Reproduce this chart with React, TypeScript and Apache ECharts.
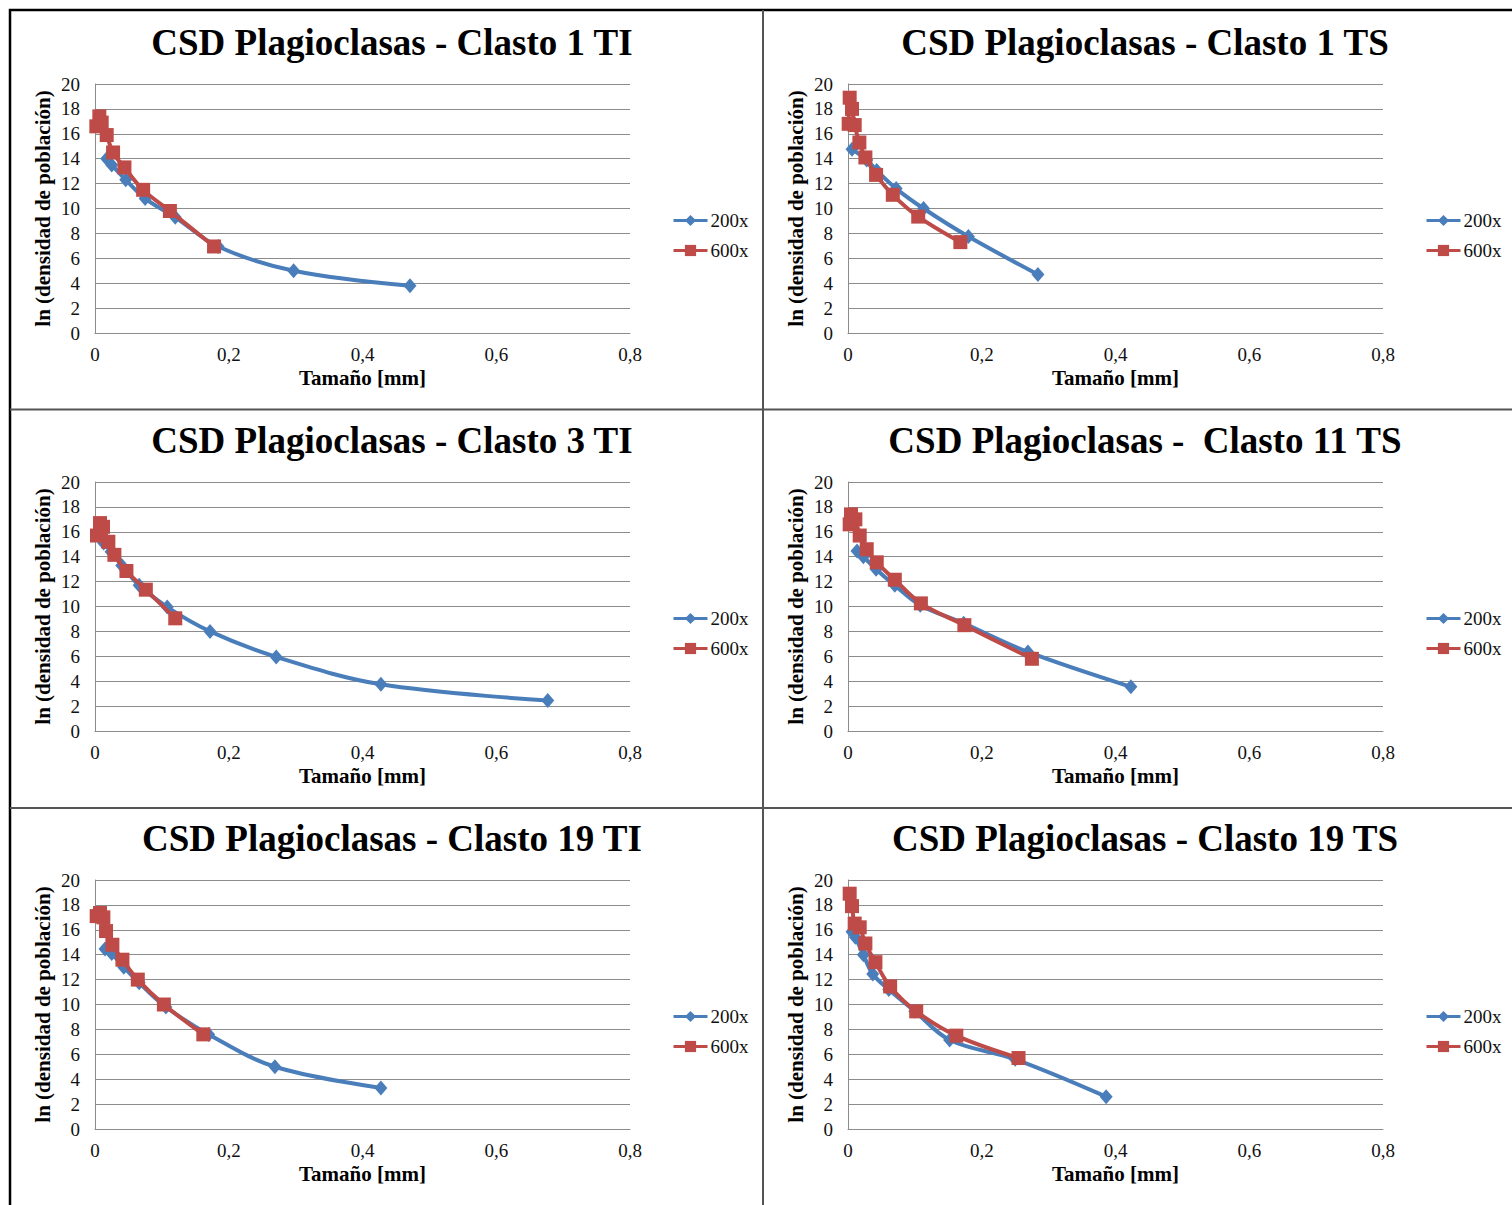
import React, { useEffect, useRef } from "react";
import * as echarts from "echarts";

// Panel titles, in reading order (two columns, three rows)
const panelTitles: string[] = [
  "CSD Plagioclasas - Clasto 1 TI",
  "CSD Plagioclasas - Clasto 1 TS",
  "CSD Plagioclasas - Clasto 3 TI",
  "CSD Plagioclasas -  Clasto 11 TS",
  "CSD Plagioclasas - Clasto 19 TI",
  "CSD Plagioclasas - Clasto 19 TS",
];

const seriesNames: string[] = ["200x", "600x"];
const xAxisTitle = "Tamaño [mm]";
const yAxisTitle = "ln (densidad de población)";

// [tamaño (mm), ln(densidad de población)]
const clasto1TI_200x: number[][] = [
  [0.0175, 14.0], [0.025, 13.5], [0.046, 12.3], [0.075, 10.8], [0.12, 9.3],
  [0.184, 6.95], [0.297, 5.0], [0.471, 3.8],
];
const clasto1TI_600x: number[][] = [
  [0.002, 16.6], [0.0065, 17.4], [0.01, 16.9], [0.0175, 15.9], [0.027, 14.5],
  [0.044, 13.3], [0.072, 11.5], [0.112, 9.8], [0.178, 6.95],
];

const clasto1TS_200x: number[][] = [
  [0.006, 14.75], [0.028, 13.9], [0.043, 13.05], [0.072, 11.6], [0.113, 10.0],
  [0.18, 7.75], [0.284, 4.7],
];
const clasto1TS_600x: number[][] = [
  [0.001, 16.8], [0.0025, 18.9], [0.006, 18.0], [0.01, 16.7], [0.017, 15.3],
  [0.026, 14.1], [0.042, 12.7], [0.067, 11.1], [0.105, 9.35], [0.168, 7.3],
];

const clasto3TI_200x: number[][] = [
  [0.013, 15.1], [0.024, 14.4], [0.04, 13.3], [0.066, 11.7], [0.108, 9.95],
  [0.172, 8.0], [0.271, 5.95], [0.4275, 3.75], [0.677, 2.45],
];
const clasto3TI_600x: number[][] = [
  [0.003, 15.7], [0.0075, 16.7], [0.012, 16.4], [0.02, 15.2], [0.029, 14.15],
  [0.047, 12.85], [0.076, 11.35], [0.12, 9.05],
];

const clasto11TS_200x: number[][] = [
  [0.0135, 14.45], [0.023, 14.0], [0.042, 13.0], [0.07, 11.7], [0.108, 10.1],
  [0.173, 8.65], [0.269, 6.35], [0.423, 3.55],
];
const clasto11TS_600x: number[][] = [
  [0.0025, 16.6], [0.0045, 17.4], [0.011, 17.0], [0.0175, 15.7], [0.028, 14.6],
  [0.043, 13.55], [0.07, 12.15], [0.109, 10.25], [0.174, 8.5], [0.275, 5.8],
];

const clasto19TI_200x: number[][] = [
  [0.015, 14.45], [0.025, 14.1], [0.043, 13.0], [0.066, 11.75], [0.106, 9.8],
  [0.17, 7.6], [0.269, 5.0], [0.4275, 3.3],
];
const clasto19TI_600x: number[][] = [
  [0.0025, 17.1], [0.0075, 17.35], [0.0125, 17.0], [0.0165, 15.9], [0.026, 14.8],
  [0.041, 13.6], [0.064, 12.0], [0.103, 10.0], [0.162, 7.6],
];

const clasto19TS_200x: number[][] = [
  [0.006, 15.85], [0.011, 15.4], [0.023, 14.0], [0.037, 12.45], [0.061, 11.2],
  [0.1, 9.45], [0.152, 7.15], [0.25, 5.6], [0.386, 2.6],
];
const clasto19TS_600x: number[][] = [
  [0.0025, 18.9], [0.006, 17.9], [0.01, 16.5], [0.0175, 16.2], [0.026, 14.9],
  [0.041, 13.4], [0.063, 11.45], [0.102, 9.45], [0.162, 7.5], [0.255, 5.7],
];

const panelData: number[][][][] = [
  [clasto1TI_200x, clasto1TI_600x],
  [clasto1TS_200x, clasto1TS_600x],
  [clasto3TI_200x, clasto3TI_600x],
  [clasto11TS_200x, clasto11TS_600x],
  [clasto19TI_200x, clasto19TI_600x],
  [clasto19TS_200x, clasto19TS_600x],
];

const xMin = 0;
const xMax = 0.8;
const xStep = 0.2;
const yMin = 0;
const yMax = 20;
const yStep = 2;

const BLUE = "#4a7ebb";
const RED = "#be4b48";
const GRID_GRAY = "#8c8c8c";
const SERIF = "'Liberation Serif', 'DejaVu Serif', serif";

// Cell geometry
const COL_W = 753;
const ROW_H = 398;
const PLOT_LEFT = 95;
const PLOT_TOP = 84;
const PLOT_W = 535;
const PLOT_H = 249;

function buildOption(): echarts.EChartsOption {
  const grids: any[] = [];
  const xAxes: any[] = [];
  const yAxes: any[] = [];
  const series: any[] = [];
  const titles: any[] = [];
  const legends: any[] = [];

  panelData.forEach((pair, i) => {
    const col = i % 2;
    const row = Math.floor(i / 2);
    const left = PLOT_LEFT + COL_W * col;
    const top = PLOT_TOP + ROW_H * row;

    grids.push({ left, top, width: PLOT_W, height: PLOT_H, containLabel: false });

    xAxes.push({
      type: "value",
      gridIndex: i,
      min: xMin,
      max: xMax,
      interval: xStep,
      name: xAxisTitle,
      nameLocation: "middle",
      nameGap: 34,
      nameTextStyle: { fontFamily: SERIF, fontWeight: "bold", fontSize: 21, color: "#000" },
      axisLine: { show: true, lineStyle: { color: GRID_GRAY, width: 1 } },
      axisTick: { show: false },
      splitLine: { show: false },
      axisLabel: {
        margin: 12,
        fontFamily: SERIF,
        fontSize: 19,
        color: "#111",
        formatter: (v: number) => (v === 0 ? "0" : v.toFixed(1).replace(".", ",")),
      },
    });

    yAxes.push({
      type: "value",
      gridIndex: i,
      min: yMin,
      max: yMax,
      interval: yStep,
      name: yAxisTitle,
      nameLocation: "middle",
      nameRotate: 90,
      nameGap: 42,
      nameTextStyle: { fontFamily: SERIF, fontWeight: "bold", fontSize: 21, color: "#000" },
      axisLine: { show: true, lineStyle: { color: GRID_GRAY, width: 1 } },
      axisTick: { show: false },
      splitLine: { show: true, lineStyle: { color: GRID_GRAY, width: 1 } },
      axisLabel: { margin: 15, fontFamily: SERIF, fontSize: 19, color: "#111" },
    });

    pair.forEach((pts, k) => {
      series.push({
        type: "line",
        name: seriesNames[k],
        xAxisIndex: i,
        yAxisIndex: i,
        data: pts,
        smooth: 0.35,
        symbol: k === 0 ? "diamond" : "rect",
        symbolSize: k === 0 ? [13, 15] : 14,
        showSymbol: true,
        lineStyle: { color: k === 0 ? BLUE : RED, width: 4 },
        itemStyle: { color: k === 0 ? BLUE : RED },
        z: 2 + k,
      });
    });

    titles.push({
      text: panelTitles[i],
      left: 387 + COL_W * col,
      top: 19 + ROW_H * row,
      textAlign: "center",
      textStyle: { fontFamily: SERIF, fontWeight: "bold", fontSize: 37, color: "#000" },
    });

    legends.push({
      data: seriesNames,
      orient: "vertical",
      left: 672 + COL_W * col,
      top: 211 + ROW_H * row,
      padding: 0,
      itemWidth: 34,
      itemHeight: 14,
      itemGap: 11,
      selectedMode: false,
      lineStyle: { width: 3 },
      textStyle: { fontFamily: SERIF, fontSize: 19, color: "#111", padding: [0, 0, 0, -2] },
    });
  });

  // Panel frame: outer border plus the dividing lines between cells
  const graphic: any[] = [
    {
      type: "rect",
      shape: { x: 10, y: 10, width: 1540, height: 1240 },
      style: { fill: "none", stroke: "#000", lineWidth: 2.5 },
      z: 100,
    },
    {
      type: "line",
      shape: { x1: 763, y1: 10, x2: 763, y2: 1220 },
      style: { stroke: "#555", lineWidth: 2 },
      z: 100,
    },
    {
      type: "line",
      shape: { x1: 10, y1: 409.5, x2: 1520, y2: 409.5 },
      style: { stroke: "#555", lineWidth: 2 },
      z: 100,
    },
    {
      type: "line",
      shape: { x1: 10, y1: 808, x2: 1520, y2: 808 },
      style: { stroke: "#555", lineWidth: 2 },
      z: 100,
    },
  ];

  return {
    animation: false,
    backgroundColor: "#fff",
    title: titles,
    legend: legends,
    grid: grids,
    xAxis: xAxes,
    yAxis: yAxes,
    series,
    graphic,
  };
}

export default function App() {
  const ref = useRef<HTMLDivElement>(null);

  useEffect(() => {
    if (!ref.current) return;
    const chart = echarts.init(ref.current, undefined, { renderer: "svg" });
    chart.setOption(buildOption());
    return () => chart.dispose();
  }, []);

  return (
    <div
      ref={ref}
      style={{ position: "fixed", left: 0, top: 0, width: 1512, height: 1205, background: "#fff" }}
    />
  );
}
